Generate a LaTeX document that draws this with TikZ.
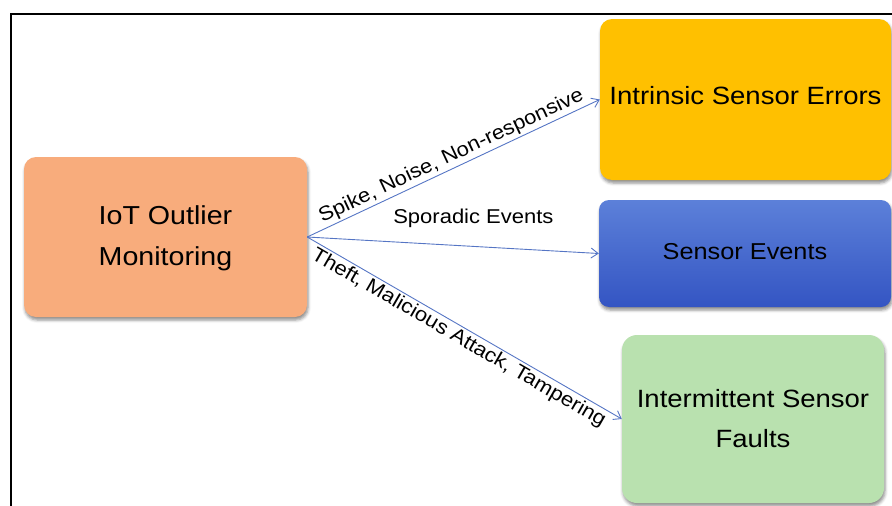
\documentclass[tikz,border=0pt]{standalone}
\usepackage{fontspec}
\setmainfont{Liberation Sans}[FakeStretch=1.1]
\usetikzlibrary{arrows.meta,shadows.blur}
\definecolor{orangebox}{HTML}{F8AC7C}
\definecolor{yellowbox}{HTML}{FFC000}
\definecolor{bluetop}{HTML}{5C80D9}
\definecolor{bluebot}{HTML}{3455C3}
\definecolor{greenbox}{HTML}{B9E1AF}
\definecolor{linkblue}{HTML}{5575C4}
\begin{document}
\begin{tikzpicture}[x=1pt,y=-1pt,
  box/.style={rounded corners=12pt, align=center, inner sep=0pt,
    blur shadow={shadow xshift=1pt, shadow yshift=-3pt, shadow blur radius=3pt, shadow opacity=45},
    font=\fontsize{25}{41}\selectfont},
  conn/.style={draw=linkblue, line width=0.9pt, -{Straight Barb[length=7pt,width=10pt]}},
  lbl/.style={font=\fontsize{20}{24}\selectfont, inner sep=2pt, text=black}]
\useasboundingbox (0,0) rectangle (892,506);
\draw[line width=1.3pt] (11,506) -- (11,14) -- (892,14);
\node[box, fill=orangebox, minimum width=283pt, minimum height=160pt, font=\fontsize{26}{41}\selectfont] (iot) at (165.5,237) {\raisebox{2pt}{\begin{tabular}{@{}c@{}}IoT Outlier\\[-0.5pt]Monitoring\end{tabular}}};
\node[box, fill=yellowbox, minimum width=291pt, minimum height=161pt] (ise) at (745.5,99.5) {\raisebox{8pt}{Intrinsic Sensor Errors}};
\node[box, top color=bluetop, bottom color=bluebot, minimum width=292pt, minimum height=107pt, rounded corners=10pt, font=\fontsize{23}{30}\selectfont] (se) at (745,253.5) {\raisebox{5pt}{Sensor Events}};
\node[box, fill=greenbox, minimum width=262pt, minimum height=168pt, rounded corners=15pt] (isf) at (753,419) {\raisebox{3pt}{\begin{tabular}{@{}c@{}}Intermittent Sensor\\[-1pt]Faults\end{tabular}}};
\draw[conn] (iot.east) -- (ise.west) node[lbl, pos=0.51, above, sloped] {Spike, Noise, Non-responsive};
\draw[conn] (iot.east) -- (se.west) node[lbl, pos=0.57, above=16pt] {Sporadic Events};
\draw[conn] (iot.east) -- (isf.west) node[lbl, midway, below, sloped] {Theft, Malicious Attack, Tampering};
\end{tikzpicture}
\end{document}
